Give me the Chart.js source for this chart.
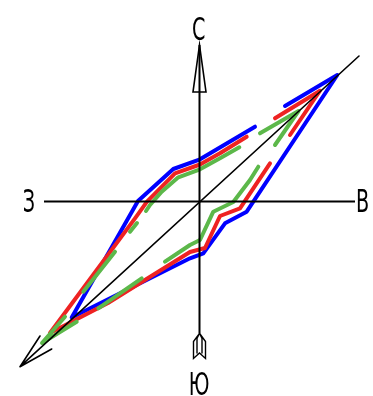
<!DOCTYPE html>
<html lang="ru">
<head>
<meta charset="utf-8">
<title>Годограф</title>
<script src="https://cdn.jsdelivr.net/npm/chart.js@4.4.1/dist/chart.umd.min.js"></script>
<style>
    html, body { margin: 0; padding: 0; background: #fff; }
    #grafico { display: block; }
</style>
</head>
<body>
<canvas id="grafico" width="373" height="396"></canvas>
<script>
// Coordenadas relativas ao centro da rosa; null = interrupção da linha
const azulX = [55.5, 0.5, -26.2, -61.5, -127.8, -9.5, 3.8, 25.5, 47.2, 137.8, 85.5];
const azulY = [74.8, 42.2, 32.5, 0.5, -116, -56.8, -51.8, -21.8, -10.2, 126.5, 95.5];

const vermelhoX = [47.2, 20.5, 0.5, -24.5, -52.5, -64.5, -149.5, -91.5, -9.5, 5.5, 20.5, 40.5, 70.5, null, 90.5, 120.5, 75.5];
const vermelhoY = [64.8, 48.2, 37, 28.2, -0.2, -16.8, -131.5, -101.5, -50.5, -46.5, -14.5, -6.8, 38.2, null, 66.5, 110.8, 83.2];

const verdeX = [60.5, 99, 75.5, null, 58.8, 50.5, 33.8, 13.8, 0.5, -9.5, -34.5, null, -57.8, -101.2, null,
    -122.8, -157.5, -134.5, null, -116.2, -84.5, null, -69.5, -62.5, null, -53.5, -49.5, -37.8, -21.2, 0.5, 20.5, 39.8];
const verdeY = [68.2, 90.5, 56.5, null, 34.8, 21.5, -0.5, -10.2, -38.5, -43.5, -60.2, null, -76.8, -106.8, null,
    -120.2, -141.5, -115.2, null, -90.2, -50.2, null, -30.2, -21.5, null, -9.5, -3.5, 9.8, 24.2, 32.2, 43.2, 54.2];

// Diagonal com a ponta da seta
const diagonalX = [159.5, -179.5, null, -159.5, -179.5, -147.8];
const diagonalY = [145.5, -165.2, null, -134.5, -165.2, -147.5];

const rotulos = ["С", "Ю", "З", "В"];

function pontos(xs, ys) {
    return xs.map((x, i) => ({ x: x, y: ys[i] }));
}

function serie(xs, ys, cor, largura, ordem) {
    return {
        data: pontos(xs, ys),
        showLine: true,
        borderColor: cor,
        borderWidth: largura,
        borderCapStyle: "round",
        borderJoinStyle: "round",
        pointRadius: 0,
        tension: 0,
        spanGaps: false,
        order: ordem
    };
}

const rosaPlugin = {
    id: "rosa",
    afterDatasetsDraw(chart) {
        const ctx = chart.ctx;
        const px = v => chart.scales.x.getPixelForValue(v);
        const py = v => chart.scales.y.getPixelForValue(v);
        ctx.save();
        ctx.strokeStyle = "#000";
        ctx.lineWidth = 2;
        ctx.lineJoin = "miter";

        // eixos
        ctx.beginPath();
        ctx.moveTo(px(-155.5), py(0));
        ctx.lineTo(px(155.5), py(0));
        ctx.moveTo(px(0), py(156.5));
        ctx.lineTo(px(0), py(-131.8));
        ctx.stroke();

        // seta norte
        ctx.lineWidth = 1.6;
        ctx.beginPath();
        ctx.moveTo(px(0), py(156.5));
        ctx.lineTo(px(-6.5), py(109.5));
        ctx.lineTo(px(6.5), py(109.5));
        ctx.closePath();
        ctx.stroke();

        // cauda sul
        ctx.lineWidth = 1.4;
        ctx.beginPath();
        ctx.moveTo(px(0), py(-131.8));
        ctx.lineTo(px(-6), py(-140));
        ctx.lineTo(px(-6), py(-157));
        ctx.lineTo(px(0), py(-151.5));
        ctx.lineTo(px(6), py(-157));
        ctx.lineTo(px(6), py(-140));
        ctx.closePath();
        ctx.moveTo(px(0), py(-131.8));
        ctx.lineTo(px(-2.5), py(-137));
        ctx.lineTo(px(-2.5), py(-152));
        ctx.moveTo(px(0), py(-131.8));
        ctx.lineTo(px(2.5), py(-137));
        ctx.lineTo(px(2.5), py(-152));
        ctx.stroke();

        // rótulos
        const pos = [[-0.8, 161.5], [-0.5, -193.5], [-170.7, -10.5], [163, -10.5]];
        ctx.fillStyle = "#000";
        ctx.font = "32px 'DejaVu Sans'";
        ctx.textAlign = "center";
        ctx.textBaseline = "alphabetic";
        rotulos.forEach((t, i) => {
            ctx.save();
            ctx.translate(px(pos[i][0]), py(pos[i][1]));
            ctx.scale(0.6, 1);
            ctx.fillText(t, 0, 0);
            ctx.restore();
        });
        ctx.restore();
    }
};

new Chart(document.getElementById("grafico"), {
    type: "scatter",
    data: {
        datasets: [
            serie(diagonalX, diagonalY, "#000", 1.6, 0),
            serie(verdeX, verdeY, "#5cb84a", 4, 1),
            serie(vermelhoX, vermelhoY, "#ee2222", 4, 2),
            serie(azulX, azulY, "#0000ff", 4, 3)
        ]
    },
    options: {
        responsive: false,
        devicePixelRatio: 1,
        animation: false,
        layout: { padding: 0 },
        plugins: {
            legend: { display: false },
            tooltip: { enabled: false }
        },
        scales: {
            x: { type: "linear", min: -199.5, max: 173.5, display: false },
            y: { type: "linear", min: -194.5, max: 201.5, display: false }
        }
    },
    plugins: [rosaPlugin]
});
</script>
</body>
</html>
